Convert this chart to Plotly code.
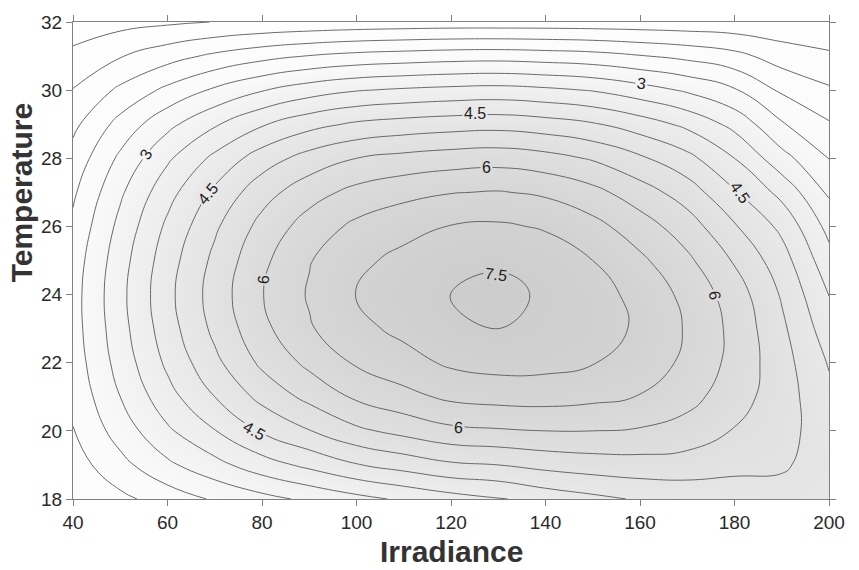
import plotly.graph_objects as go

irradiance = [40, 50, 60, 70, 80, 90, 100, 110, 120, 130, 140, 150, 160, 170, 180, 190, 200]
temperature = [18, 19, 20, 21, 22, 23, 24, 25, 26, 27, 28, 29, 30, 31, 32]

t18 = [1.50, 1.88, 2.22, 2.56, 2.84, 3.10, 3.35, 3.58, 3.80, 3.95, 4.20, 4.38, 4.55, 4.65, 4.72, 4.82, 4.72]
t19 = [1.77, 2.34, 2.90, 3.34, 3.78, 4.12, 4.47, 4.70, 4.92, 5.00, 5.15, 5.25, 5.30, 5.28, 5.14, 5.06, 4.78]
t20 = [1.98, 2.72, 3.42, 3.98, 4.55, 4.98, 5.40, 5.65, 5.88, 5.95, 6.00, 6.00, 5.95, 5.80, 5.47, 5.19, 4.72]
t21 = [2.13, 3.00, 3.82, 4.50, 5.15, 5.64, 6.08, 6.35, 6.60, 6.68, 6.70, 6.62, 6.48, 6.17, 5.72, 5.23, 4.62]
t22 = [2.23, 3.20, 4.10, 4.88, 5.60, 6.12, 6.56, 6.82, 7.08, 7.18, 7.15, 7.02, 6.82, 6.38, 5.85, 5.20, 4.46]
t23 = [2.29, 3.31, 4.28, 5.12, 5.87, 6.45, 6.87, 7.12, 7.40, 7.50, 7.38, 7.20, 6.93, 6.45, 5.86, 5.10, 4.23]
t24 = [2.30, 3.36, 4.36, 5.22, 5.98, 6.55, 7.01, 7.27, 7.52, 7.66, 7.42, 7.16, 6.88, 6.35, 5.76, 4.95, 3.99]
t25 = [2.24, 3.29, 4.28, 5.12, 5.89, 6.47, 6.89, 7.13, 7.36, 7.42, 7.28, 7.00, 6.60, 6.10, 5.45, 4.72, 3.68]
t26 = [2.10, 3.14, 4.10, 4.92, 5.66, 6.22, 6.61, 6.84, 7.02, 7.07, 6.95, 6.66, 6.23, 5.74, 5.05, 4.38, 3.34]
t27 = [1.92, 2.92, 3.82, 4.60, 5.30, 5.80, 6.15, 6.35, 6.48, 6.53, 6.42, 6.15, 5.73, 5.26, 4.55, 3.85, 2.93]
t28 = [1.68, 2.60, 3.42, 4.12, 4.75, 5.20, 5.50, 5.65, 5.75, 5.80, 5.68, 5.45, 5.08, 4.65, 4.00, 3.18, 2.49]
t29 = [1.38, 2.17, 2.86, 3.44, 3.95, 4.33, 4.58, 4.70, 4.78, 4.82, 4.72, 4.55, 4.25, 3.88, 3.35, 2.55, 2.05]
t30 = [1.02, 1.60, 2.12, 2.58, 2.97, 3.27, 3.47, 3.57, 3.64, 3.68, 3.60, 3.47, 3.22, 2.93, 2.55, 1.92, 1.57]
t31 = [0.62, 0.97, 1.30, 1.60, 1.84, 2.02, 2.15, 2.22, 2.28, 2.30, 2.25, 2.18, 2.03, 1.87, 1.65, 1.27, 1.08]
t32 = [0.22, 0.33, 0.42, 0.51, 0.58, 0.63, 0.67, 0.70, 0.72, 0.72, 0.72, 0.71, 0.70, 0.68, 0.66, 0.63, 0.60]

z = [t18, t19, t20, t21, t22, t23, t24, t25, t26, t27, t28, t29, t30, t31, t32]

x_ticks = [40, 60, 80, 100, 120, 140, 160, 180, 200]
y_ticks = [18, 20, 22, 24, 26, 28, 30, 32]

# inline contour labels (level, irradiance, temperature, text angle)
label_level = [3.0, 4.5, 6.0, 4.5, 3.0, 4.5, 6.0, 7.5, 6.0, 4.5, 6.0]
label_x = [55.5, 68.6, 80.3, 181.2, 160.3, 125.1, 127.6, 129.5, 121.5, 78.2, 175.8]
label_y = [28.1, 26.96, 24.44, 27.0, 30.2, 29.3, 27.73, 24.6, 20.1, 20.0, 23.97]
label_angle = [-60, -50, -88, 55, 8, 0, 0, 8, 3, 30, 82]

LINE = "#5a5a5a"
FONT = "Liberation Sans, Arial, sans-serif"
ZMAX = 7.8
SCALE = [[0, "#ffffff"], [0.3, "#fbfbfb"], [1, "#cbcbcb"]]


def fill_grey(v):
    t = v / ZMAX
    if t <= 0.3:
        g = 255 - (255 - 251) * t / 0.3
    else:
        g = 251 - (251 - 203) * min(1.0, (t - 0.3) / 0.7)
    g = int(round(g))
    return f"rgb({g},{g},{g})"


fig = go.Figure()

fig.add_trace(go.Contour(
    x=irradiance, y=temperature, z=z,
    colorscale=SCALE, zmin=0, zmax=ZMAX, showscale=False,
    contours=dict(coloring="heatmap", start=0.5, end=7.5, size=0.5),
    line=dict(width=0), hoverinfo="skip",
))

fig.add_trace(go.Contour(
    x=irradiance, y=temperature, z=z,
    showscale=False, hoverinfo="skip",
    contours=dict(coloring="none", start=0.5, end=7.5, size=0.5),
    line=dict(color=LINE, width=0.9, smoothing=1.3),
))

annotations = []
for lev, lx, ly, ang in zip(label_level, label_x, label_y, label_angle):
    annotations.append(dict(
        text=f"{lev:g}", x=lx, y=ly, xref="x", yref="y", showarrow=False,
        textangle=ang, xanchor="center", yanchor="middle",
        font=dict(size=16, color="#222222", family=FONT),
        bgcolor=fill_grey(lev), borderpad=1,
    ))

annotations += [
    dict(text="<b>Irradiance</b>", xref="paper", yref="paper",
         x=0.501, y=-0.11, xanchor="center", yanchor="middle",
         showarrow=False, font=dict(size=30, color="#333333", family=FONT)),
    dict(text="<b>Temperature</b>", xref="paper", yref="paper",
         x=-0.068, y=0.642, xanchor="center", yanchor="middle", textangle=-90,
         showarrow=False, font=dict(size=30, color="#333333", family=FONT)),
]

axis_common = dict(
    showline=True, linecolor="#808080", linewidth=1, mirror="ticks",
    ticks="outside", ticklen=6, tickcolor="#808080", tickwidth=1,
    showgrid=False, zeroline=False,
    tickfont=dict(size=19, color="#2a2a2a", family=FONT),
)

fig.update_layout(
    width=859, height=570, autosize=False,
    margin=dict(l=73, r=30, t=16, b=71),
    paper_bgcolor="white", plot_bgcolor="white",
    xaxis=dict(range=[40, 200], tickvals=x_ticks, **axis_common),
    yaxis=dict(range=[18, 32], tickvals=y_ticks, **axis_common),
    showlegend=False,
    annotations=annotations,
)

fig.write_html("out.html")
